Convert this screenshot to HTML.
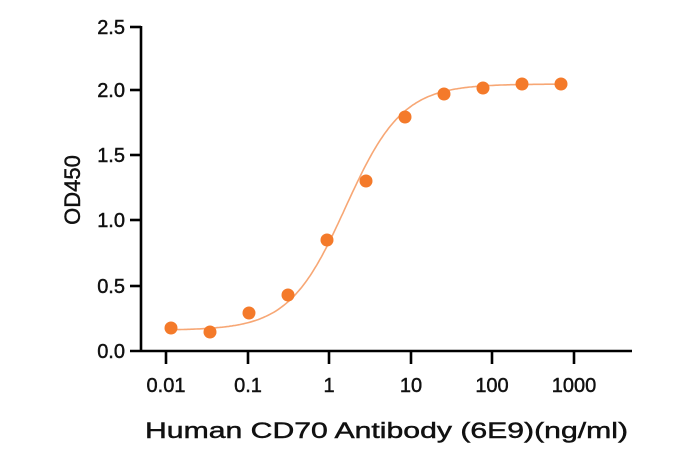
<!DOCTYPE html>
<html><head><style>body{margin:0;background:#fff}svg{display:block}text{font-family:"Liberation Sans",Arial,sans-serif;fill:#111;stroke:#111;stroke-width:0.45}</style></head>
<body>
<svg width="673" height="457" viewBox="0 0 673 457" xmlns="http://www.w3.org/2000/svg">
<path id="curve" d="" fill="none" stroke="#f7a775" stroke-width="1.6"/>
<g id="pts" fill="#f47a2a"></g>
<g stroke="#000" stroke-width="2.6" fill="none">
<line x1="141" y1="26" x2="141" y2="352"/>
<line x1="130" y1="351" x2="632" y2="351"/>
<line x1="130" y1="27" x2="141" y2="27"/>
<line x1="130" y1="90" x2="141" y2="90"/>
<line x1="130" y1="155" x2="141" y2="155"/>
<line x1="130" y1="220" x2="141" y2="220"/>
<line x1="130" y1="286" x2="141" y2="286"/>
<line x1="166" y1="351" x2="166" y2="364"/>
<line x1="248" y1="351" x2="248" y2="364"/>
<line x1="329" y1="351" x2="329" y2="364"/>
<line x1="411" y1="351" x2="411" y2="364"/>
<line x1="492" y1="351" x2="492" y2="364"/>
<line x1="574" y1="351" x2="574" y2="364"/>
</g>
<g font-size="20" text-anchor="end">
<text x="125" y="34">2.5</text><text x="125" y="97">2.0</text><text x="125" y="162">1.5</text>
<text x="125" y="227">1.0</text><text x="125" y="293">0.5</text><text x="125" y="358">0.0</text>
</g>
<g font-size="20" text-anchor="middle">
<text x="166" y="392">0.01</text><text x="248" y="392">0.1</text><text x="329" y="392">1</text>
<text x="411" y="392">10</text><text x="492" y="392">100</text><text x="574" y="392">1000</text>
</g>
<text x="145" y="438" font-size="22" textLength="483" lengthAdjust="spacingAndGlyphs">Human CD70 Antibody (6E9)(ng/ml)</text>
<text transform="translate(80,190) rotate(-90)" font-size="22" text-anchor="middle">OD450</text>
</svg>
<script>
var xs=[171,210,249,288,327,366,405,444,483,522,561],ys=[328,332,313,295,240,181,117,94,88,84,84];
var g=document.getElementById('pts'),s='';
for(var i=0;i<xs.length;i++)s+='<circle cx="'+xs[i]+'" cy="'+ys[i]+'" r="6.5"/>';
g.innerHTML=s;
function X(c){return 329+81.5*Math.log10(c);}
function Y(v){return 351-129.6*v;}
var d='';for(var lx=-1.95;lx<=2.84;lx+=0.02){var c=Math.pow(10,lx);var v=0.16+(2.06-0.16)/(1+Math.pow(1.6/c,1.25));d+=(d?'L':'M')+X(c).toFixed(1)+','+Y(v).toFixed(1);}
document.getElementById('curve').setAttribute('d',d);
</script>
</body></html>
